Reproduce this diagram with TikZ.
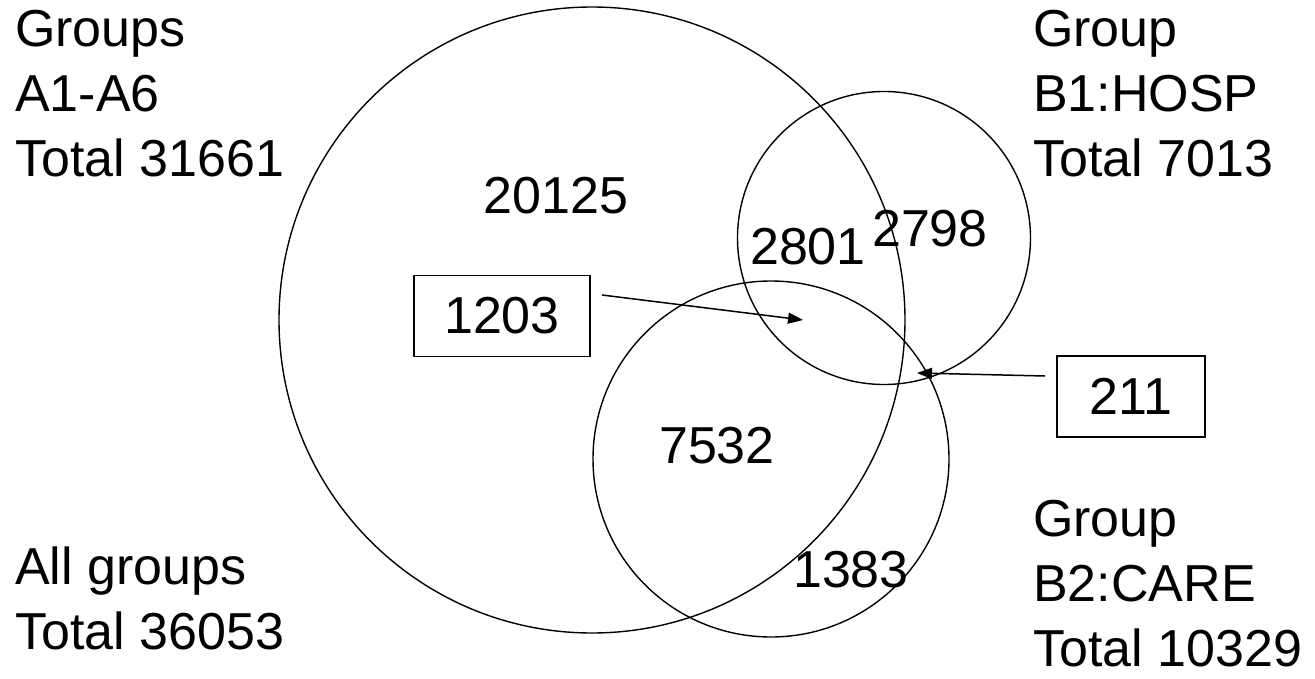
\documentclass[tikz,border=0pt]{standalone}
\usepackage{fontspec}
\setmainfont{Liberation Sans}
\usetikzlibrary{arrows.meta}
\begin{document}
\begin{tikzpicture}[x=1pt,y=-1pt,
  ring/.style={draw=black,line width=1.4pt,circle,inner sep=0pt},
  lbl/.style={font=\fontsize{52}{65}\selectfont,inner sep=0pt},
  grp/.style={lbl,align=left,anchor=north west},
  num/.style={lbl,anchor=base},
  valbox/.style={lbl,draw=black,line width=1.6pt,minimum width=#1,minimum height=81pt},
  pointer/.style={line width=1.5pt,-{Triangle[length=15pt,width=11pt]}}]
\useasboundingbox[fill=white] (0,0) rectangle (1315,679);
% circles
\node[ring,minimum size=626pt] (A) at (592,320) {};
\node[ring,minimum size=293pt] (B1) at (884,238) {};
\node[ring,minimum size=356pt] (B2) at (771,459) {};
% group labels
\node[grp] (gA) at (15,10) {Groups\\A1-A6\\Total 31661};
\node[grp] (gB1) at (1033,10) {Group\\B1:HOSP\\Total 7013};
\node[grp] (gAll) at (15,547) {All groups\\Total 36053};
\node[grp] (gB2) at (1033,500) {Group\\B2:CARE\\Total 10329};
% region counts
\node[num] (n20125) at (556,214) {20125};
\node[num] (n2801) at (808,265) {2801};
\node[num] (n2798) at (930,247) {2798};
\node[num] (n7532) at (717,463) {7532};
\node[num] (n1383) at (851,587) {1383};
% boxed counts with pointers
\node[valbox=176pt] (b1203) at (502,316) {1203};
\node[valbox=148pt] (b211) at (1131,396.5) {211};
\coordinate (p1s) at (602,295);
\coordinate (p1e) at (803,320);
\coordinate (p2s) at (1045,376);
\coordinate (p2e) at (917,373);
\draw[pointer] (p1s) -- (p1e);
\draw[pointer] (p2s) -- (p2e);
\end{tikzpicture}
\end{document}
